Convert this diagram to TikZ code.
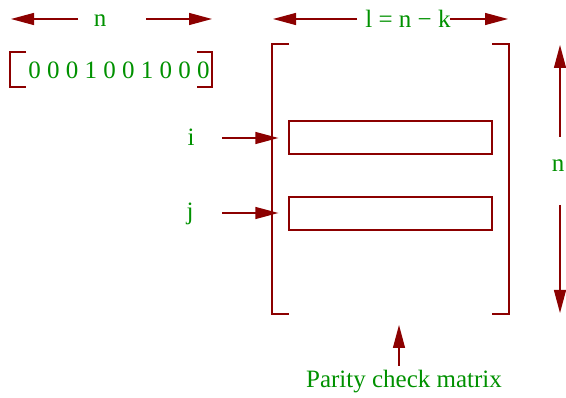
\documentclass[tikz,border=0pt]{standalone}
\usepackage{fontspec}
\setmainfont{Liberation Serif}
\usetikzlibrary{arrows.meta}
\definecolor{linered}{RGB}{140,0,0}
\definecolor{labelgreen}{RGB}{0,145,0}
\tikzset{
  lbl/.style={text=labelgreen, inner sep=0pt, font=\fontsize{25}{28}\selectfont},
  arr/.style={draw=linered, line width=1.3pt, -{Triangle[length=23pt,width=12pt]}},
  brk/.style={draw=linered, line width=1.3pt},
  rowbox/.style={draw=linered, line width=1.3pt, minimum width=203pt, minimum height=33pt, inner sep=0pt}
}
\begin{document}
\begin{tikzpicture}[x=1pt,y=-1pt]
\useasboundingbox (0,0) rectangle (566,398);

% codeword of length n
\node[lbl] (nlab) at (100,21) {n};
\coordinate (nl0) at (78,19);  \coordinate (nl1) at (11,19);
\coordinate (nr0) at (146,19); \coordinate (nr1) at (212,19);
\draw[arr] (nl0) -- (nl1);
\draw[arr] (nr0) -- (nr1);

\node[lbl] (word) at (119,70) {0 0 0 1 0 0 1 0 0 0};
\coordinate (wa) at (26,52); \coordinate (wb) at (10,52);
\coordinate (wc) at (10,87); \coordinate (wd) at (26,87);
\draw[brk] (wa) -- (wb) -- (wc) -- (wd);
\coordinate (we) at (197,52); \coordinate (wf) at (212,52);
\coordinate (wg) at (212,87); \coordinate (wh) at (197,87);
\draw[brk] (we) -- (wf) -- (wg) -- (wh);

% parity check matrix, l = n - k columns
\node[lbl] (llab) at (408,19) {l = n − k};
\coordinate (ll0) at (357,19); \coordinate (ll1) at (273,19);
\coordinate (lr0) at (450,19); \coordinate (lr1) at (508,19);
\draw[arr] (ll0) -- (ll1);
\draw[arr] (lr0) -- (lr1);

\coordinate (ma) at (289,44); \coordinate (mb) at (272,44);
\coordinate (mc) at (272,314); \coordinate (md) at (289,314);
\draw[brk] (ma) -- (mb) -- (mc) -- (md);
\coordinate (me) at (492,44); \coordinate (mf) at (509,44);
\coordinate (mg) at (509,314); \coordinate (mh) at (492,314);
\draw[brk] (me) -- (mf) -- (mg) -- (mh);

% rows i and j
\node[rowbox] (rowi) at (390.5,137.5) {};
\node[rowbox] (rowj) at (390.5,213.5) {};
\node[lbl] (ilab) at (191,137) {i};
\node[lbl] (jlab) at (190,214) {j};
\coordinate (ia) at (222,138);
\coordinate (ja) at (222,213);
\draw[arr, shorten >=10pt] (ia) -- (ia -| rowi.west);
\draw[arr, shorten >=10pt] (ja) -- (ja -| rowj.west);

% height n
\node[lbl] (vlab) at (558,166) {n};
\coordinate (vu0) at (560,137); \coordinate (vu1) at (560,45);
\coordinate (vd0) at (560,205); \coordinate (vd1) at (560,313);
\draw[arr] (vu0) -- (vu1);
\draw[arr] (vd0) -- (vd1);

% caption
\node[lbl] (cap) at (404,382) {Parity check matrix};
\coordinate (c0) at (399,366); \coordinate (c1) at (399,325);
\draw[arr] (c0) -- (c1);
\end{tikzpicture}
\end{document}
